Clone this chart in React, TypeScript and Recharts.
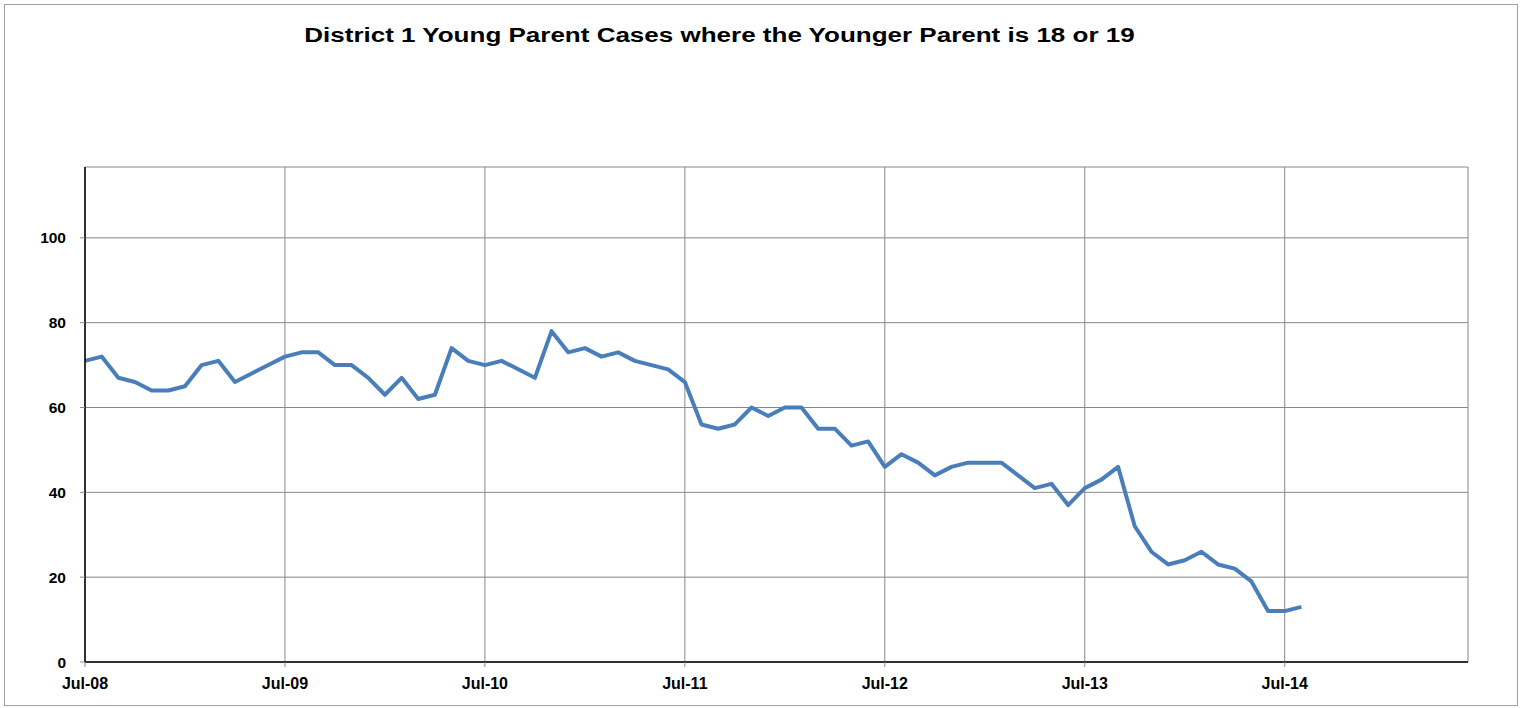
import React from "react";
import { LineChart, Line, XAxis, YAxis, CartesianGrid } from "recharts";

const title = "District 1 Young Parent Cases where the Younger Parent is 18 or 19";

// Monthly counts, Jul-08 onwards (month index 0 = Jul-08)
const caseCounts = [
  71, 72, 67, 66, 64, 64, 65, 70, 71, 66, 68, 70,
  72, 73, 73, 70, 70, 67, 63, 67, 62, 63, 74, 71,
  70, 71, 69, 67, 78, 73, 74, 72, 73, 71, 70, 69,
  66, 56, 55, 56, 60, 58, 60, 60, 55, 55, 51, 52,
  46, 49, 47, 44, 46, 47, 47, 47, 44, 41, 42, 37,
  41, 43, 46, 32, 26, 23, 24, 26, 23, 22, 19, 12,
  12, 13,
];

const xTickPositions = [0, 12, 24, 36, 48, 60, 72];
const xTickLabels = ["Jul-08", "Jul-09", "Jul-10", "Jul-11", "Jul-12", "Jul-13", "Jul-14"];
const yTicks = [0, 20, 40, 60, 80, 100];

const data = caseCounts.map((v, i) => ({ month: i, cases: v }));

const font = "'Liberation Sans', Arial, sans-serif";

export default function App() {
  return (
    <div style={{ position: "absolute", left: 0, top: 0, width: 1521, height: 708, background: "#fff" }}>
      <div
        style={{
          position: "absolute",
          left: 4,
          top: 4,
          width: 1514,
          height: 702,
          border: "1px solid #a0a0a0",
          boxSizing: "border-box",
        }}
      />
      <div
        style={{
          position: "absolute",
          left: 0,
          top: 20,
          width: 1439,
          textAlign: "center",
          fontFamily: font,
          fontWeight: 700,
          fontSize: 20,
          lineHeight: "30px",
          color: "#000",
          transform: "scaleX(1.3)",
          transformOrigin: "719.5px 0",
          whiteSpace: "nowrap",
        }}
      >
        {title}
      </div>
      <div style={{ position: "absolute", left: 0, top: 0 }}>
        <LineChart
          width={1521}
          height={708}
          data={data}
          margin={{ top: 167, right: 53, bottom: 16, left: 0 }}
        >
          <CartesianGrid stroke="#888" strokeWidth={1} vertical={true} horizontal={true} />
          <XAxis
            dataKey="month"
            type="number"
            domain={[0, 83]}
            ticks={xTickPositions}
            tickFormatter={(v: number) => xTickLabels[xTickPositions.indexOf(v)] ?? ""}
            height={30}
            tickSize={5}
            tickMargin={11}
            axisLine={{ stroke: "#000", strokeWidth: 1.5 }}
            tickLine={{ stroke: "#888" }}
            tick={{ fontFamily: font, fontSize: 16, fontWeight: 700, fill: "#000" }}
            interval={0}
            allowDecimals={false}
          />
          <YAxis
            type="number"
            domain={[0, 116.7]}
            ticks={yTicks}
            width={85}
            tickSize={5}
            tickMargin={14}
            axisLine={{ stroke: "#000", strokeWidth: 1.5 }}
            tickLine={{ stroke: "#888" }}
            tick={{ fontFamily: font, fontSize: 15.5, fontWeight: 700, fill: "#000" }}
            interval={0}
            allowDataOverflow
          />
          <Line
            type="linear"
            dataKey="cases"
            stroke="#4a7ebb"
            strokeWidth={4}
            dot={false}
            isAnimationActive={false}
            strokeLinejoin="round"
          />
        </LineChart>
      </div>
    </div>
  );
}
